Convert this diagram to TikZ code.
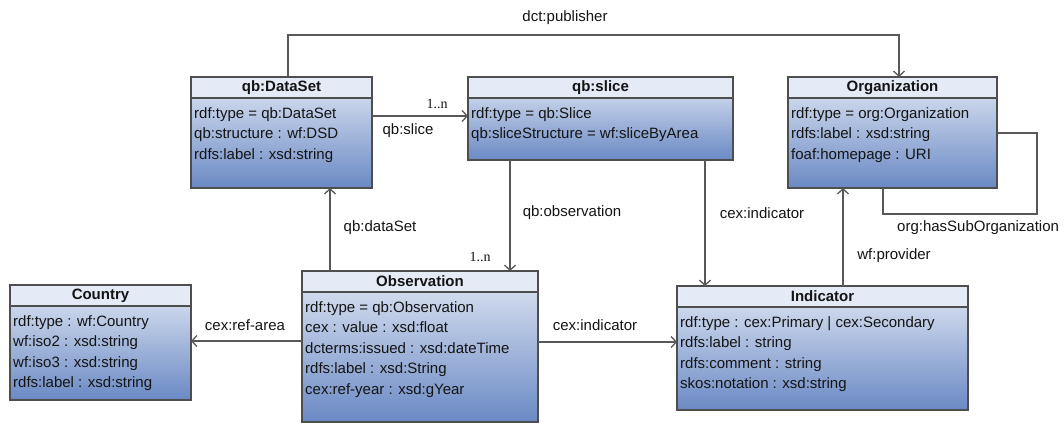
\documentclass[tikz,border=0pt]{standalone}
\usepackage{fontspec}
\setmainfont{Liberation Sans}
\newfontfamily\mulfont{Liberation Serif}
\usetikzlibrary{arrows.meta}
\definecolor{hdrc}{RGB}{229,235,246}
\definecolor{bodytop}{RGB}{224,231,244}
\definecolor{bodybot}{RGB}{106,137,196}
\definecolor{linec}{RGB}{88,88,88}
\definecolor{borderc}{RGB}{78,78,78}
\definecolor{txtc}{RGB}{20,20,20}
\tikzset{
  clsbody/.style={rectangle, draw=none, inner sep=0pt, outer sep=0pt,
    top color=bodytop, bottom color=bodybot},
  clsline/.style={draw=borderc, line width=1.3pt},
  clstitle/.style={font=\fontsize{15}{18}\selectfont\bfseries, text=txtc, inner sep=0pt},
  clsrow/.style={font=\fontsize{15}{18}\selectfont, text=txtc, inner sep=0pt},
  conn/.style={draw=linec, line width=1.4pt},
  nav/.style={conn, -{Straight Barb[length=5pt, width=11pt, line width=1.3pt]}},
  lbl/.style={font=\fontsize{15}{18}\selectfont, text=txtc, inner sep=0pt},
  mult/.style={font=\fontsize{14}{16}\selectfont\mulfont, text=txtc, inner sep=0pt},
}
% #1 name, #2 left, #3 top, #4 width, #5 height, #6 title, #7 rows
\newcommand\umlclass[7]{%
  \node[clsbody, minimum width=#4pt, minimum height=#5pt, anchor=north west] (#1) at (#2,#3) {};
  \fill[hdrc] (#1.north west) rectangle ([yshift=-21pt]#1.north east);
  \draw[clsline] (#1.north west) rectangle (#1.south east);
  \draw[clsline] ([yshift=-21pt]#1.north west) -- ([yshift=-21pt]#1.north east);
  \node[clstitle] (#1-t) at ([yshift=-10.5pt]#1.north) {#6};
  \foreach \rowtext [count=\rowidx] in {#7} {
    \node[clsrow, anchor=base west] (#1-\rowidx) at ([xshift=3pt, yshift={-41pt-(\rowidx-1)*20.5pt}]#1.north west) {\rowtext};
  }%
}
\begin{document}
\begin{tikzpicture}[x=1pt,y=-1pt]
\useasboundingbox (0,0) rectangle (1064,424);

\umlclass{ds}{191}{77}{181}{111}{qb:DataSet}{rdf:type = qb:DataSet, qb:structure : wf:DSD, rdfs:label : xsd:string}
\umlclass{sl}{468}{77}{265}{83}{qb:slice}{rdf:type = qb:Slice, qb:sliceStructure = wf:sliceByArea}
\umlclass{org}{788}{77}{209}{111}{Organization}{rdf:type = org:Organization, rdfs:label : xsd:string, foaf:homepage : URI}
\umlclass{ctry}{10}{285}{181}{115}{Country}{rdf:type : wf:Country, wf:iso2 : xsd:string, wf:iso3 : xsd:string, rdfs:label : xsd:string}
\umlclass{obs}{302}{271}{236}{151}{Observation}{rdf:type = qb:Observation, cex : value : xsd:float, dcterms:issued : xsd:dateTime, rdfs:label : xsd:String, cex:ref-year : xsd:gYear}
\umlclass{ind}{677}{286}{291}{124}{Indicator}{rdf:type : cex:Primary | cex:Secondary, rdfs:label : string, rdfs:comment : string, skos:notation : xsd:string}

% helper coordinates
\coordinate (pubY) at (0,35);
\coordinate (pubA) at (288,0);
\coordinate (pubB) at (899,0);
\coordinate (slY) at (0,116);
\coordinate (obsX) at (510,0);
\coordinate (dsX) at (330,0);
\coordinate (refY) at (0,341);
\coordinate (indY) at (0,342);
\coordinate (ciX) at (705,0);
\coordinate (provX) at (843,0);
\coordinate (subY) at (0,133);
\coordinate (subR) at (1037,214);
\coordinate (subL) at (883,214);

% dct:publisher
\draw[nav] (ds.north -| pubA) -- (pubA |- pubY) -- (pubB |- pubY) -- (org.north -| pubB);
\node[lbl] (l-pub) at (565,18) {dct:publisher};

% qb:slice
\draw[nav] (ds.east |- slY) -- (sl.west |- slY);
\node[mult] (m-slice) at (437,104) {1..n};
\node[lbl] (l-slice) at (408,131) {qb:slice};

% qb:observation
\draw[nav] (sl.south -| obsX) -- (obs.north -| obsX);
\node[lbl] (l-obs) at (572,213) {qb:observation};
\node[mult] (m-obs) at (480,257) {1..n};

% qb:dataSet
\draw[nav] (obs.north -| dsX) -- (ds.south -| dsX);
\node[lbl] (l-ds) at (380,228) {qb:dataSet};

% cex:ref-area
\draw[nav] (obs.west |- refY) -- (ctry.east |- refY);
\node[lbl] (l-ref) at (245,325) {cex:ref-area};

% cex:indicator (obs -> ind)
\draw[nav] (obs.east |- indY) -- (ind.west |- indY);
\node[lbl] (l-ci1) at (595,325) {cex:indicator};

% cex:indicator (slice -> ind)
\draw[nav] (sl.south -| ciX) -- (ind.north -| ciX);
\node[lbl] (l-ci2) at (762,213) {cex:indicator};

% wf:provider
\draw[nav] (ind.north -| provX) -- (org.south -| provX);
\node[lbl] (l-prov) at (894,256) {wf:provider};

% org:hasSubOrganization (self loop)
\draw[conn] (org.east |- subY) -- (subR |- subY) -- (subR) -- (subL) -- (org.south -| subL);
\node[lbl, anchor=west] (l-sub) at (897,228) {org:hasSubOrganization};
\end{tikzpicture}
\end{document}
